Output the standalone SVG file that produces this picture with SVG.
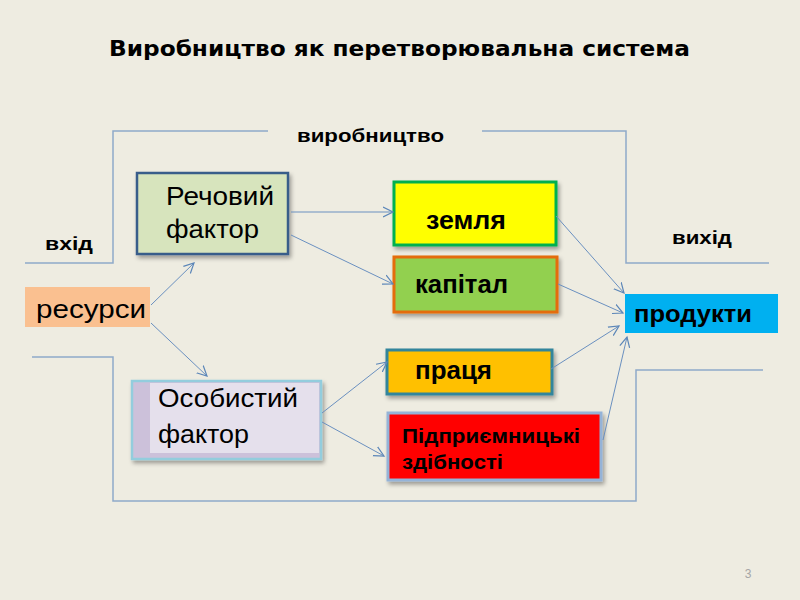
<svg xmlns="http://www.w3.org/2000/svg" width="800" height="600" viewBox="0 0 800 600">
<defs>
<marker id="arr" markerWidth="12" markerHeight="12" refX="10" refY="5" orient="auto" markerUnits="userSpaceOnUse" viewBox="0 0 12 10">
<path d="M0,0 L10,5 L0,10" fill="none" stroke="#5B86B8" stroke-width="1.2"/>
</marker>
<filter id="sh" x="-10%" y="-10%" width="125%" height="135%">
<feGaussianBlur in="SourceAlpha" stdDeviation="2"/>
<feOffset dx="2" dy="3" result="b"/>
<feComponentTransfer><feFuncA type="linear" slope="0.35"/></feComponentTransfer>
<feMerge><feMergeNode/><feMergeNode in="SourceGraphic"/></feMerge>
</filter>
</defs>
<style>
.frame{fill:none;stroke:#8FA9C9;stroke-width:1.5}
.conn line{stroke:#6A90C0;stroke-width:1;marker-end:url(#arr)}
.t{font-family:"Liberation Sans",Arial,sans-serif;fill:#000}
.b{font-weight:bold}
</style>
<rect width="800" height="600" fill="#EEECE1"/>
<text class="t b" x="109" y="56" style="font-family:'DejaVu Sans',sans-serif" font-size="21.5" textLength="581" lengthAdjust="spacingAndGlyphs">Виробництво як перетворювальна система</text>
<g id="frame">
<polyline class="frame" points="25,263 113,263 113,131 268,131"/>
<polyline class="frame" points="482,131 626,131 626,263 769,263"/>
<polyline class="frame" points="32,357 113,357 113,501 636,501 636,370 763,370"/>
</g>
<text class="t b" x="297" y="142" font-size="19" textLength="147" lengthAdjust="spacingAndGlyphs">виробництво</text>
<text class="t b" x="45" y="250" font-size="19" textLength="48" lengthAdjust="spacingAndGlyphs">вхід</text>
<text class="t b" x="672" y="244" font-size="19" textLength="60" lengthAdjust="spacingAndGlyphs">вихід</text>
<g id="resursy">
<rect x="25" y="287" width="125" height="40" fill="#FAC090"/>
<text class="t" x="36" y="318" font-size="25" textLength="110" lengthAdjust="spacingAndGlyphs">ресурси</text>
</g>
<g id="rechovyi">
<rect x="137" y="173" width="151" height="81" fill="#D7E4BD" stroke="#385D8A" stroke-width="2.5" filter="url(#sh)"/>
<text class="t" x="166" y="205" font-size="25" textLength="108" lengthAdjust="spacingAndGlyphs">Речовий</text>
<text class="t" x="166" y="238" font-size="25" textLength="93" lengthAdjust="spacingAndGlyphs">фактор</text>
</g>
<g id="osobystyi">
<rect x="132" y="381" width="189" height="78" fill="#CCC1DA" stroke="#93CDDD" stroke-width="2.5" filter="url(#sh)"/>
<rect x="150" y="383" width="169" height="70" fill="#E5E0EC"/>
<text class="t" x="158" y="407" font-size="25" textLength="140" lengthAdjust="spacingAndGlyphs">Особистий</text>
<text class="t" x="158" y="443" font-size="25" textLength="91" lengthAdjust="spacingAndGlyphs">фактор</text>
</g>
<g id="zemlia">
<rect x="394" y="182" width="162" height="63" fill="#FFFF00" stroke="#00B050" stroke-width="3" filter="url(#sh)"/>
<text class="t b" x="426" y="229" font-size="26" textLength="80" lengthAdjust="spacingAndGlyphs">земля</text>
</g>
<g id="kapital">
<rect x="394" y="257" width="163" height="55" fill="#92D050" stroke="#E46C0A" stroke-width="3" filter="url(#sh)"/>
<text class="t b" x="415" y="293" font-size="26" textLength="93" lengthAdjust="spacingAndGlyphs">капітал</text>
</g>
<g id="pratsia">
<rect x="387" y="350" width="165" height="44" fill="#FFC000" stroke="#31859C" stroke-width="3" filter="url(#sh)"/>
<text class="t b" x="415" y="379" font-size="26" textLength="77" lengthAdjust="spacingAndGlyphs">праця</text>
</g>
<g id="pidpryiemnytski">
<rect x="388" y="413" width="213" height="67" fill="#FF0000" stroke="#95B3D7" stroke-width="3" filter="url(#sh)"/>
<text class="t b" x="402" y="443" font-size="20" textLength="178" lengthAdjust="spacingAndGlyphs">Підприємницькі</text>
<text class="t b" x="402" y="469" font-size="20" textLength="101" lengthAdjust="spacingAndGlyphs">здібності</text>
</g>
<g id="produkty">
<rect x="625" y="294" width="153" height="39" fill="#00B0F0"/>
<text class="t b" x="634" y="322" font-size="24" textLength="118" lengthAdjust="spacingAndGlyphs">продукти</text>
</g>
<g class="conn" id="connectors">
<line x1="151" y1="305" x2="194" y2="263"/>
<line x1="151" y1="323" x2="207" y2="376"/>
<line x1="291" y1="212" x2="393" y2="212"/>
<line x1="291" y1="235" x2="393" y2="284"/>
<line x1="322" y1="413" x2="387" y2="362"/>
<line x1="322" y1="422" x2="384" y2="456"/>
<line x1="556" y1="216" x2="624" y2="293"/>
<line x1="558" y1="284" x2="623" y2="313"/>
<line x1="551" y1="369" x2="619" y2="326"/>
<line x1="603" y1="440" x2="627" y2="337"/>
</g>
<text x="748" y="578" font-family="Liberation Sans, Arial, sans-serif" font-size="12" fill="#A6A6A6" text-anchor="middle">3</text>
</svg>
